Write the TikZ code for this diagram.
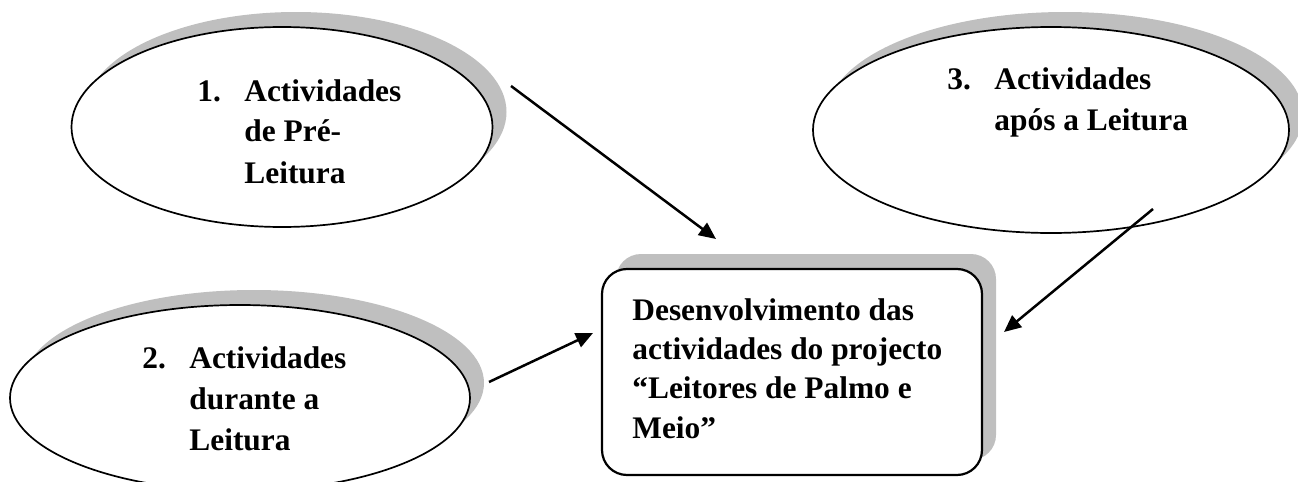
\documentclass[tikz,border=0pt]{standalone}
\usepackage{fontspec}
\setmainfont{Liberation Serif}
\usetikzlibrary{shapes.geometric, shadows, arrows.meta}

\tikzset{
  shade/.style = {drop shadow={shadow xshift=7pt, shadow yshift=7.5pt, fill=black!25, opacity=1}},
  bubble/.style = {ellipse, draw, line width=0.85pt, fill=white, shade, inner sep=0pt},
  mainbox/.style = {rectangle, rounded corners=12.5pt, draw, line width=1.1pt, fill=white, shade, inner sep=0pt},
  txt/.style = {anchor=base west, inner sep=0pt, font=\fontsize{15.7}{20.5}\selectfont\bfseries},
  arr/.style = {line width=1.25pt, -{Triangle[length=8.5pt, width=7.5pt]}}
}
\newcommand{\num}[1]{\makebox[23.5pt][l]{#1}}

\begin{document}
\begin{tikzpicture}[x=0.5pt, y=-0.5pt]
  \useasboundingbox (0,0) rectangle (1298,482);

  % Draw bubbles
  \node[bubble, minimum width=210.5pt, minimum height=100pt] (pre) at (282,127) {};
  \node[bubble, minimum width=230pt, minimum height=93pt] (dur) at (240,398) {};
  \node[bubble, minimum width=238pt, minimum height=103pt] (apos) at (1051,130) {};
  \node[mainbox, minimum width=190pt, minimum height=103pt] (proj) at (792,372) {};

  % Label the bubbles
  \node[txt] (pretxt) at (197,101) {\begin{tabular}[t]{@{}l@{}l@{}}
    \num{1.} & Actividades\\ & de Pré-\\ & Leitura\end{tabular}};
  \node[txt] (durtxt) at (142,368) {\begin{tabular}[t]{@{}l@{}l@{}}
    \num{2.} & Actividades\\ & durante a\\ & Leitura\end{tabular}};
  \node[txt] (apostxt) at (947,90) {\begin{tabular}[t]{@{}l@{}l@{}}
    \num{3.} & Actividades\\ & após a Leitura\end{tabular}};
  \node[txt] (projtxt) at (632,320) {\renewcommand{\arraystretch}{0.96}\begin{tabular}[t]{@{}l@{}}
    Desenvolvimento das\\ actividades do projecto\\ “Leitores de Palmo e\\ Meio”\end{tabular}};

  % Arrows
  \coordinate (s1) at (511,86);
  \coordinate (e1) at (716,239);
  \coordinate (s2) at (489,382);
  \coordinate (e2) at (593,333);
  \coordinate (s3) at (1153,209);
  \coordinate (e3) at (1004,332);
  \draw[arr] (s1) -- (e1);
  \draw[arr] (s2) -- (e2);
  \draw[arr] (s3) -- (e3);

\end{tikzpicture}
\end{document}
